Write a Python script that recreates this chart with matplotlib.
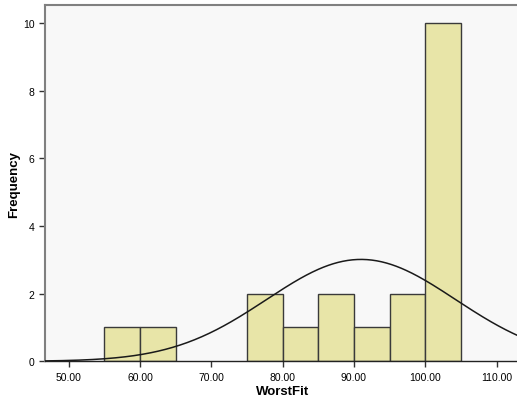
import numpy as np
import matplotlib
matplotlib.use("Agg")
import matplotlib.pyplot as plt

# histogram of WorstFit, bin width 5
bin_left = [55, 60, 75, 80, 85, 90, 95, 100]
counts = [1, 1, 2, 1, 2, 1, 2, 10]
bin_width = 5
n_total = 20
mean = 91.0
std = 13.25

xticks = [50, 60, 70, 80, 90, 100, 110]
xtick_labels = ["50.00", "60.00", "70.00", "80.00", "90.00", "100.00", "110.00"]
yticks = [0, 2, 4, 6, 8, 10]

plt.rcParams['font.family'] = ['Liberation Sans', 'DejaVu Sans']

fig = plt.figure(figsize=(5.17, 4.02), dpi=100)
ax_w = 1 - 45/517 + 0.01
ax = fig.add_axes([45/517, (402-362.3)/402, ax_w, (362.3-6)/402])
ax.set_facecolor("#f8f8f8")

ax.bar(bin_left, counts, width=bin_width, align="edge", color="#e8e5a8",
       edgecolor="#3a3a3a", linewidth=1.0, zorder=2)

xs = np.linspace(46, 114, 400)
ys = n_total * bin_width / (std * np.sqrt(2 * np.pi)) * np.exp(-0.5 * ((xs - mean) / std) ** 2)
ax.plot(xs, ys, color="#1a1a1a", linewidth=1.1, zorder=3)

ax.set_xlim(46.67, 113.6)
ax.set_ylim(0, 10.53)
ax.set_xticks(xticks)
ax.set_xticklabels(xtick_labels)
ax.set_yticks(yticks)
ax.tick_params(axis="both", labelsize=7.5, length=4, width=1.0, color="#333333", direction="out")

for s in ["top", "left"]:
    ax.spines[s].set_color("#808080")
    ax.spines[s].set_linewidth(1.5)
ax.spines["right"].set_visible(False)
ax.spines["bottom"].set_color("#222222")
ax.spines["bottom"].set_linewidth(1.0)

ax.set_xlabel("WorstFit", fontsize=9.5, fontweight="bold")
ax.set_ylabel("Frequency", fontsize=9.5, fontweight="bold")
ax.xaxis.set_label_coords((283 - 45) / (ax_w * 517), -24 / 356.3)
ax.yaxis.set_label_coords(-25 / (ax_w * 517), 0.5)

fig.savefig("out.png", dpi=100)
